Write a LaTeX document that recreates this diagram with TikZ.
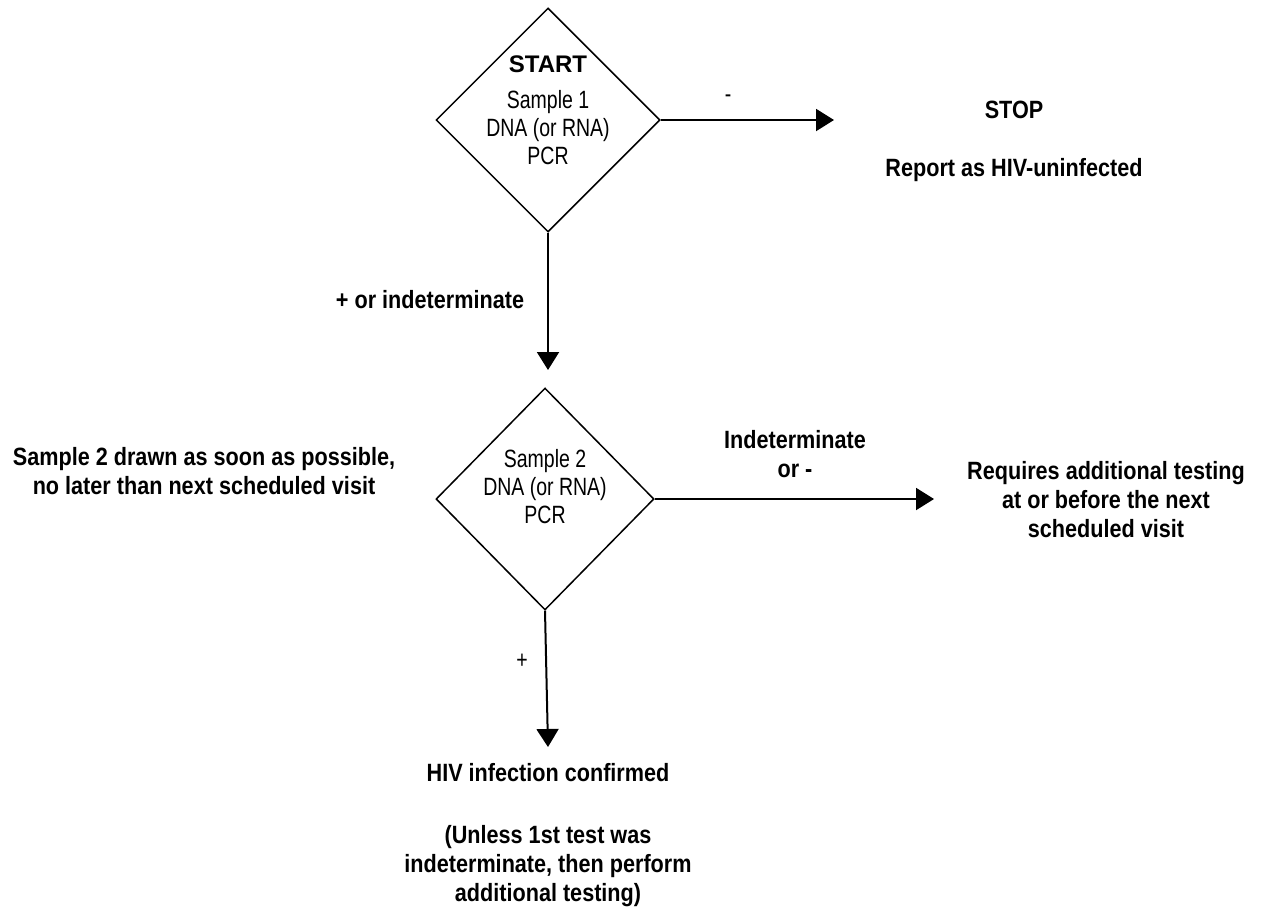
\documentclass[tikz,border=0pt]{standalone}
\usepackage{fontspec}
\setmainfont{Liberation Sans}
\newfontfamily\narrow[FakeStretch=0.78]{Liberation Sans}
\newfontfamily\narrowb[FakeStretch=0.865]{Liberation Sans Bold}
\usetikzlibrary{shapes.geometric,arrows.meta}
\begin{document}
\begin{tikzpicture}[x=1pt,y=-1pt,
  dec/.style={draw,line width=1.5pt,diamond,aspect=1,minimum width=224pt,minimum height=224pt,inner sep=0pt},
  conn/.style={line width=2pt,-{Triangle[length=18pt,width=22pt]}},
  txt/.style={font=\fontsize{25}{29}\selectfont\narrowb,align=center,inner sep=0pt},
  intxt/.style={font=\fontsize{25}{28}\selectfont\narrow,align=center,inner sep=0pt},
  lab/.style={font=\fontsize{25}{29}\selectfont\narrow,inner sep=0pt}]
\useasboundingbox (0,0) rectangle (1281,916);
\node[dec] (d1) at (548,120) {};
\node[dec,minimum width=218pt,minimum height=222pt] (d2) at (545,499) {};
\node[font=\fontsize{24}{26}\selectfont\bfseries,inner sep=0pt] (start) at (548,64) {START};
\node[intxt] (t1) at (548,128) {Sample 1\\DNA (or RNA)\\PCR};
\node[intxt] (t2) at (545,487) {Sample 2\\DNA (or RNA)\\PCR};
\coordinate (a1) at (834,120);
\node[txt] (stop) at (1014,110) {STOP};
\node[txt] (report) at (1014,170) {Report as HIV-uninfected};
\coordinate (a2) at (548,370);
\coordinate (a3) at (934,499);
\coordinate (a4) at (548,747);
\draw[conn] (d1.east) -- (a1);
\draw[conn] (d1.south) -- (a2);
\draw[conn] (d2.east) -- (a3);
\draw[conn] (d2.south) -- (a4);
\node[lab] (lminus) at (728,99) {-};
\node[txt] (lplus1) at (430,300) {+ or indeterminate};
\node[txt] (lind) at (795,454) {Indeterminate\\or -};
\node[lab] (lplus2) at (522,661) {+};
\node[txt] (left) at (204,471) {Sample 2 drawn as soon as possible,\\no later than next scheduled visit};
\node[txt] (right) at (1106,500) {Requires additional testing\\at or before the next\\scheduled visit};
\node[txt] (conf) at (548,773) {HIV infection confirmed};
\node[txt] (unless) at (548,866) {(Unless 1st test was\\indeterminate, then perform\\additional testing)};
\end{tikzpicture}
\end{document}
